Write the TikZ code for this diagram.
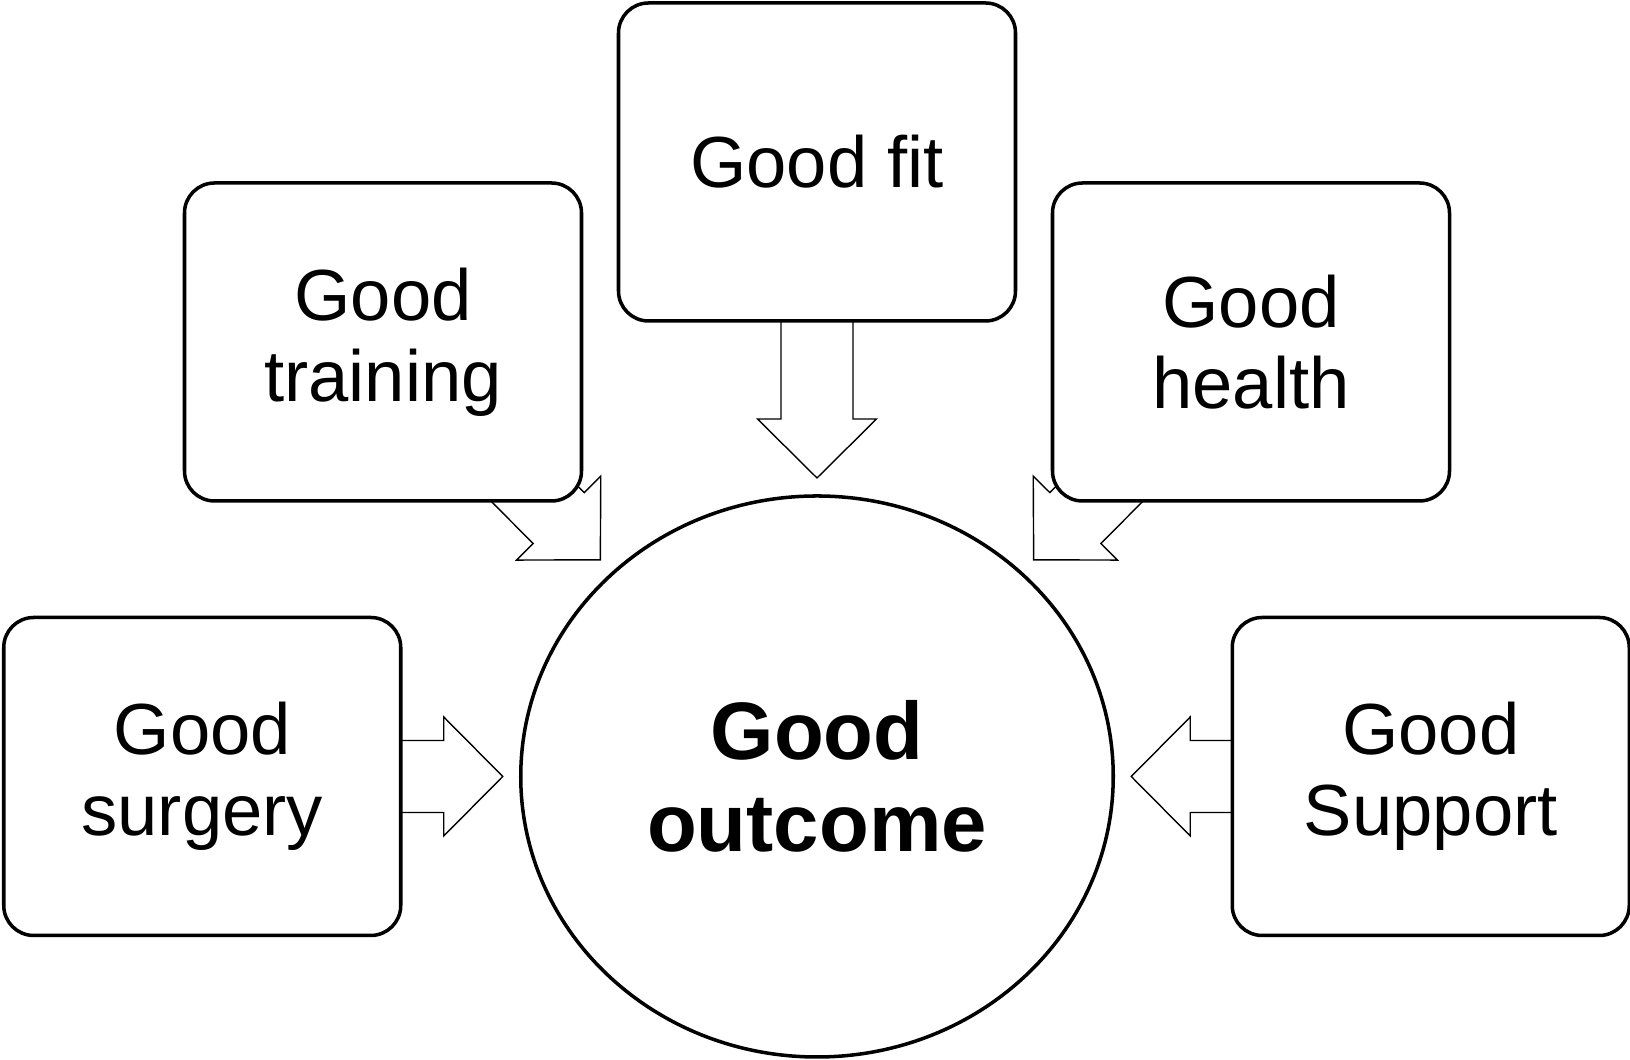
\documentclass[tikz,border=0pt]{standalone}
\usepackage{fontspec}
\setmainfont{Liberation Sans}
\usetikzlibrary{positioning, calc, shapes.geometric, backgrounds}

\newcommand{\blockarrow}[2]{%
  \coordinate (hb) at ($(#2)!0.59cm!(#1)$);
  \draw[blockarr] ($(#1)!0.36cm!90:(#2)$) -- ($(hb)!0.36cm!90:(#2)$)
    -- ($(hb)!0.595cm!90:(#2)$) -- (#2) -- ($(hb)!0.595cm!-90:(#2)$)
    -- ($(hb)!0.36cm!-90:(#2)$) -- ($(#1)!0.36cm!-90:(#2)$) -- cycle;
}

\begin{document}
\begin{tikzpicture}[
  goodbox/.style={draw, line width=1pt, rounded corners=0.3cm, fill=white,
    minimum width=3.97cm, minimum height=3.18cm, align=center, outer sep=0pt,
    font=\fontsize{20.6}{23}\selectfont},
  blockarr/.style={draw, line width=0.4pt, fill=white}]
\useasboundingbox (0,0) rectangle (16.3,10.6);

\node (outcome) at (8.17,2.835) [ellipse, draw, line width=1pt, fill=white,
  minimum width=5.925cm, minimum height=5.61cm, inner sep=0pt, outer sep=0pt,
  align=center, font=\fontsize{23.2}{26}\selectfont\bfseries] {Good\\outcome};
\node (fit) [goodbox, above=1.75cm of outcome] {Good fit};
\node (training) [goodbox, left=0.37cm of fit, yshift=-1.8cm] {Good\\training};
\node (health) [goodbox, right=0.37cm of fit, yshift=-1.8cm] {Good\\health};
\node (surgery) [goodbox, left=1.2cm of outcome] {Good\\surgery};
\node (support) [goodbox, right=1.19cm of outcome] {Good\\Support};

\begin{scope}[on background layer]
\coordinate (fittip) at ($(outcome.north)+(0,0.18)$);
\coordinate (trainingtip) at ($(outcome.135)+(-0.13,0.13)$);
\coordinate (healthtip) at ($(outcome.45)+(0.13,0.13)$);
\coordinate (surgerytip) at ($(outcome.west)+(-0.18,0)$);
\coordinate (supporttip) at ($(outcome.east)+(0.18,0)$);
\blockarrow{fit.center}{fittip}
\blockarrow{training.center}{trainingtip}
\blockarrow{health.center}{healthtip}
\blockarrow{surgery.center}{surgerytip}
\blockarrow{support.center}{supporttip}
\end{scope}
\end{tikzpicture}
\end{document}
